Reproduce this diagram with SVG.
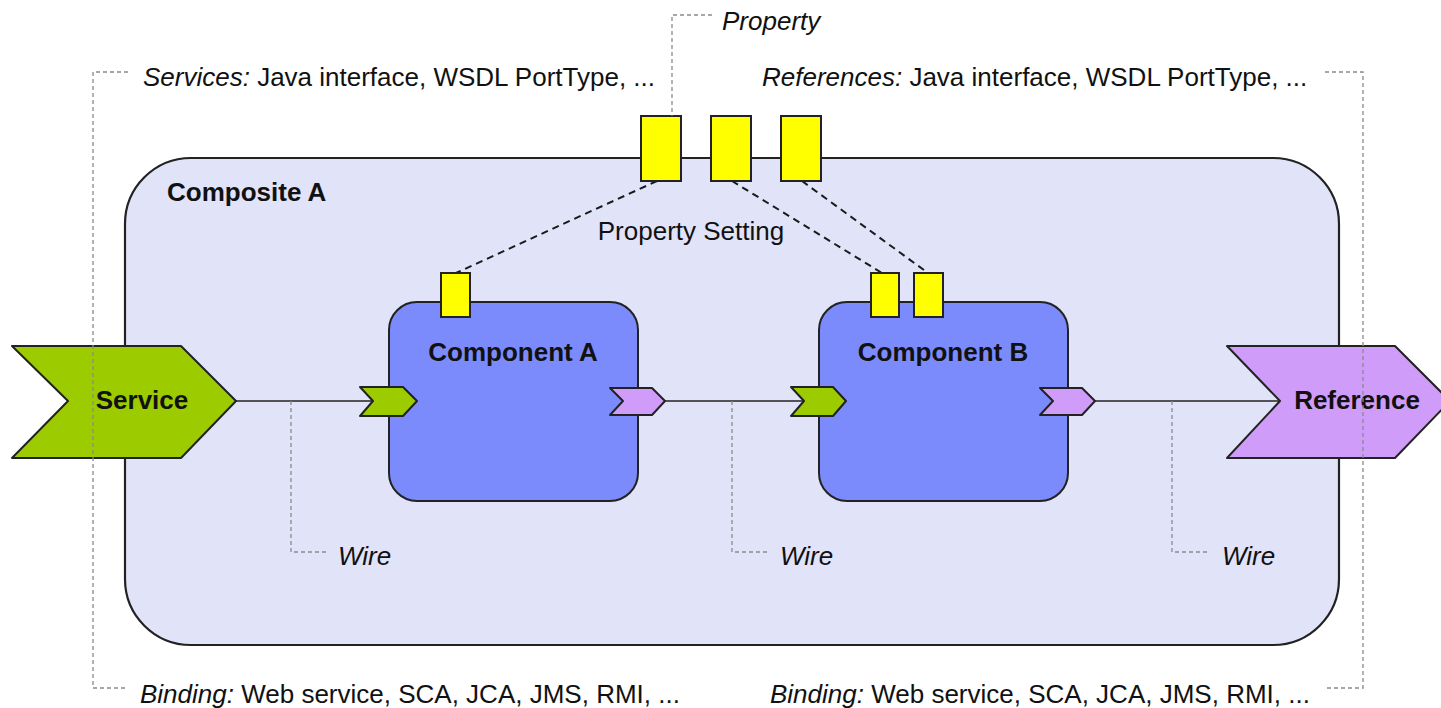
<svg xmlns="http://www.w3.org/2000/svg" width="1441" height="708" viewBox="0 0 1441 708">
<style>
text{font-family:"Liberation Sans",Arial,sans-serif;font-size:26px;fill:#111}
.b{font-weight:bold}
.i{font-style:italic}
.note{fill:none;stroke:#8a8a8a;stroke-width:1.3;stroke-dasharray:4 3}
.pset{fill:none;stroke:#1a1a1a;stroke-width:2;stroke-dasharray:7 5}
.wire{fill:none;stroke:#222;stroke-width:1.6}
.prop{fill:#ffff00;stroke:#222;stroke-width:2}
.green{fill:#9ccb00;stroke:#222;stroke-width:2;stroke-linejoin:round}
.purple{fill:#d09cf9;stroke:#222;stroke-width:2;stroke-linejoin:round}
.comp{fill:#7b8bfb;stroke:#222;stroke-width:2}
</style>
<rect width="1441" height="708" fill="#fff"/>
<g id="compositeA">
<rect x="125" y="158" width="1214" height="487" rx="66" ry="66" fill="#e1e3f8" stroke="#222" stroke-width="2.2"/>
<text class="b" x="167" y="201">Composite A</text>
</g>
<g id="connectors">
<path class="wire" d="M236 401 H373"/>
<path class="wire" d="M665 401 H804"/>
<path class="wire" d="M1095 401 H1280"/>
<path class="pset" d="M657 181 L456 273"/>
<path class="pset" d="M732 181 L882 273"/>
<path class="pset" d="M802 181 L928 273"/>
</g>
<g id="service">
<polygon class="green" points="12,346 181,346 236,401 181,458 12,458 68,401"/>
<text class="b" x="142" y="409" text-anchor="middle">Service</text>
</g>
<g id="reference">
<polygon class="purple" points="1227,346 1395,346 1450,401 1395,458 1227,458 1280,401"/>
<text class="b" x="1357" y="409" text-anchor="middle">Reference</text>
</g>
<g id="componentA">
<rect class="comp" x="389" y="302" width="249" height="199" rx="28" ry="28"/>
<rect class="prop" x="441" y="273" width="29" height="44"/>
<polygon class="green" points="360,387 403,387 417,401 403,416 360,416 373,401"/>
<polygon class="purple" points="610,388 652,388 665,401 652,415 610,415 623,401"/>
<text class="b" x="513" y="361" text-anchor="middle">Component A</text>
</g>
<g id="componentB">
<rect class="comp" x="819" y="302" width="249" height="199" rx="28" ry="28"/>
<rect class="prop" x="871" y="273" width="28" height="44"/>
<rect class="prop" x="914" y="273" width="29" height="44"/>
<polygon class="green" points="791,387 833,387 846,401 833,416 791,416 804,401"/>
<polygon class="purple" points="1040,388 1082,388 1095,401 1082,415 1040,415 1053,401"/>
<text class="b" x="943" y="361" text-anchor="middle">Component B</text>
</g>
<g id="compositeProperties">
<rect class="prop" x="641" y="116" width="40" height="65"/>
<rect class="prop" x="711" y="116" width="40" height="65"/>
<rect class="prop" x="781" y="116" width="40" height="65"/>
</g>
<g id="annotations">
<path class="note" d="M128 72 H93 V688 H128"/>
<path class="note" d="M1325 72 H1363 V688 H1325"/>
<path class="note" d="M712 15 H672 V116"/>
<path class="note" d="M291 401 V552 H328"/>
<path class="note" d="M732 401 V552 H769"/>
<path class="note" d="M1172 401 V552 H1209"/>
<text x="143" y="86"><tspan class="i">Services:</tspan> Java interface, WSDL PortType, ...</text>
<text x="762" y="86"><tspan class="i">References:</tspan> Java interface, WSDL PortType, ...</text>
<text class="i" x="722" y="30">Property</text>
<text x="691" y="240" text-anchor="middle">Property Setting</text>
<text class="i" x="338" y="565">Wire</text>
<text class="i" x="780" y="565">Wire</text>
<text class="i" x="1222" y="565">Wire</text>
<text x="140" y="703"><tspan class="i">Binding:</tspan> Web service, SCA, JCA, JMS, RMI, ...</text>
<text x="770" y="703"><tspan class="i">Binding:</tspan> Web service, SCA, JCA, JMS, RMI, ...</text>
</g>
</svg>
